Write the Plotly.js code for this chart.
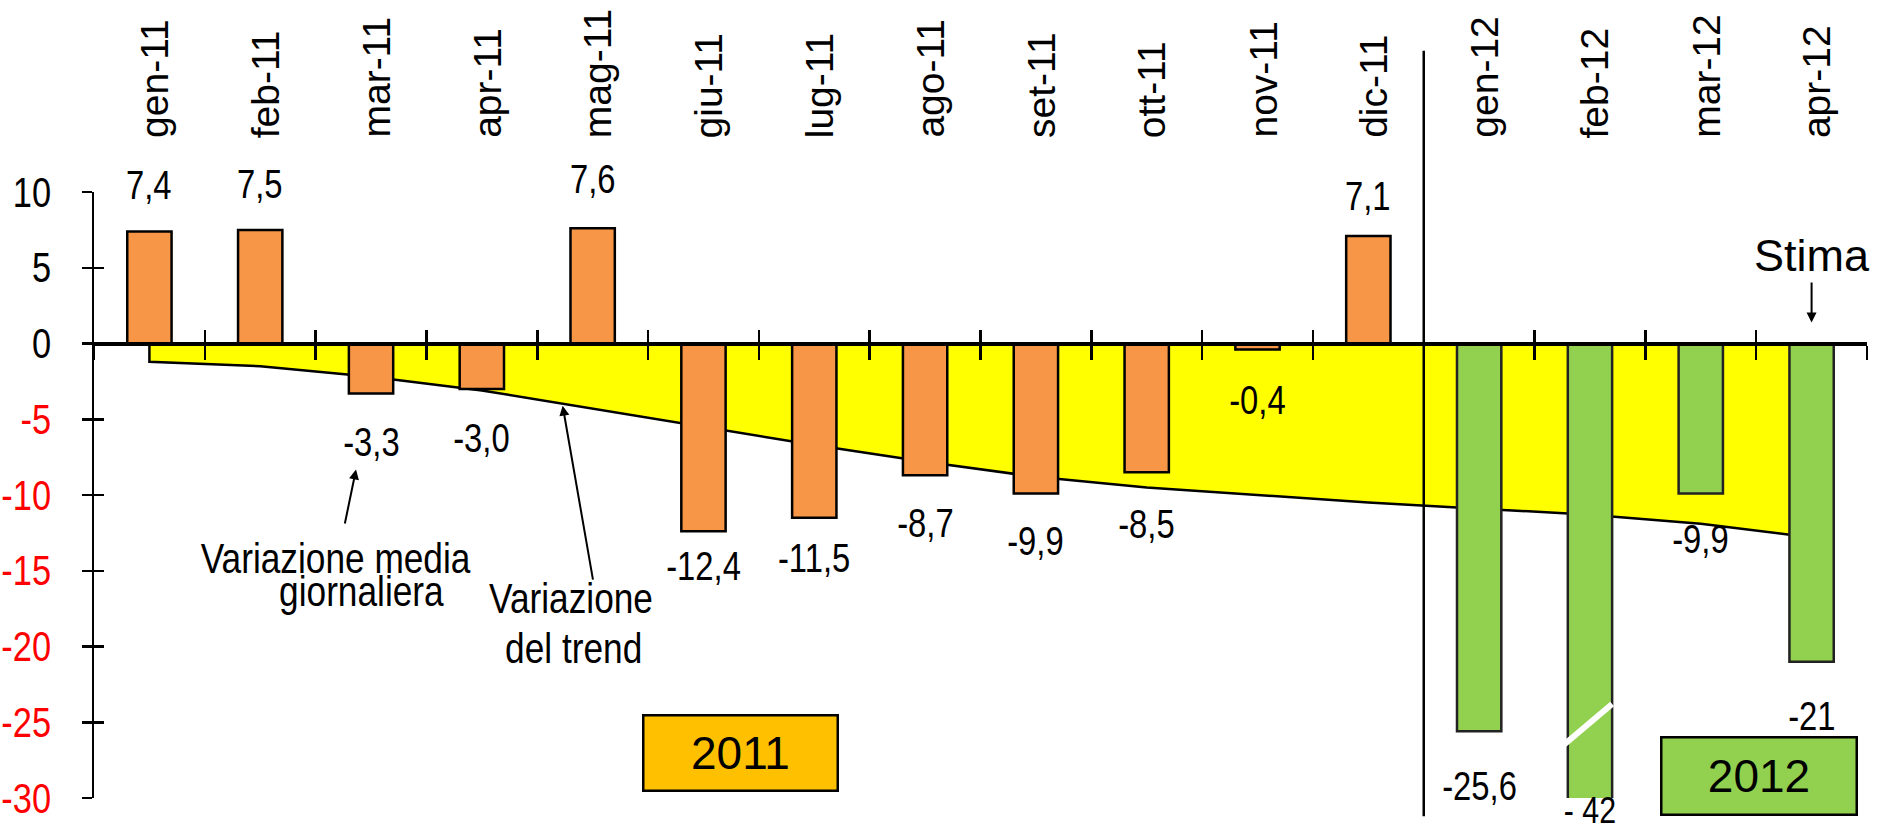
<!DOCTYPE html>
<html><head><meta charset="utf-8">
<script src="https://cdn.plot.ly/plotly-3.0.1.min.js"></script>
<style>html,body{margin:0;padding:0;background:#fff}</style>
</head><body><div id="chart" style="width:1882px;height:830px"></div>
<script>
const months = ['gen-11','feb-11','mar-11','apr-11','mag-11','giu-11','lug-11','ago-11','set-11','ott-11','nov-11','dic-11','gen-12','feb-12','mar-12','apr-12'];
const dailyChange = [7.4, 7.5, -3.3, -3.0, 7.6, -12.4, -11.5, -8.7, -9.9, -8.5, -0.4, 7.1, -25.6, -42, -9.9, -21];
const valueLabels = ['7,4','7,5','-3,3','-3,0','7,6','-12,4','-11,5','-8,7','-9,9','-8,5','-0,4','7,1','-25,6','- 42','-9,9','-21'];
const trend = [-1.2, -1.5, -2.2, -3.1, -4.3, -5.5, -6.7, -7.8, -8.8, -9.5, -10.0, -10.5, -10.9, -11.3, -11.9, -12.8];
const yTicks = [10, 5, 0, -5, -10, -15, -20, -25, -30];

// styling
const Y_MIN = -30, Y_MAX = 10;
const ORANGE = '#F79646', GREEN = '#92D050', YELLOW = '#FFFF00', RED = '#FF0000';
const FONT = '"Liberation Sans", Arial, sans-serif';
const NARROW_SCALE = 0.82;
const labelGap = [46,46,48,49,49,35,40,48,48,52,50,40,55,12,46,54];
const zeroPos = (0 - Y_MIN) / (Y_MAX - Y_MIN);

const areaTrace = {
  type:'scatter', x:[months[0]].concat(months), y:[0].concat(trend),
  mode:'lines', fill:'tozeroy', fillcolor:YELLOW,
  line:{color:'#000', width:2.5}, xaxis:'x', yaxis:'y', hoverinfo:'skip'
};
const barTrace = {
  type:'bar', x:months, y:dailyChange, width:0.4,
  marker:{color:months.map(m => m.endsWith('12') ? GREEN : ORANGE),
          line:{color:months.map(m => m.endsWith('12') ? '#222' : '#000'), width:2.5}},
  xaxis:'x2', yaxis:'y2', hoverinfo:'skip'
};
const tickTrace = {
  type:'scatter', x:months, y:months.map(() => null), mode:'markers',
  xaxis:'x3', yaxis:'y2', hoverinfo:'skip'
};

const catAxis = () => ({type:'category', categoryorder:'array', categoryarray:months,
  range:[-0.5, months.length - 0.5], fixedrange:true, showgrid:false, zeroline:false});

const annotations = [];
const condenseMeta = []; // per annotation: null or origin for horizontal condensing
function addAnn(a, origin) { annotations.push(a); condenseMeta.push(origin || null); }
const txt = (size) => ({family:FONT, size:size, color:'#000'});

months.forEach((m, i) => {
  addAnn({xref:'x2', yref:'paper', x:m, y:1.0858, yanchor:'bottom', xanchor:'center',
    textangle:-90, text:m, showarrow:false, xshift:5, font:txt(39)});
  const v = dailyChange[i];
  addAnn({xref:'x2', yref:'y2', x:m, y:Math.max(v, Y_MIN), text:valueLabels[i],
    showarrow:false, yanchor:'middle', yshift: v >= 0 ? labelGap[i] : -labelGap[i],
    font:txt(v < Y_MIN ? 37 : 40)}, 'middle');
});
// "Stima" (estimate) marker over the last bar
addAnn({xref:'x2', yref:'y2', x:months[15], y:0, text:'Stima', showarrow:true,
  arrowhead:2, arrowsize:1, arrowwidth:2, arrowcolor:'#000', ax:0, ay:-88, standoff:21,
  font:txt(45)});
// arrows
addAnn({xref:'x2', yref:'y2', x:months[2], y:dailyChange[2], xshift:-15, yshift:-76,
  text:' ', showarrow:true, arrowhead:2, arrowsize:1, arrowwidth:2, arrowcolor:'#000',
  ax:-12, ay:58, standoff:0, font:txt(4)});
addAnn({xref:'x2', yref:'y2', x:months[4], y:trend[4], xshift:-30, yshift:3,
  text:' ', showarrow:true, arrowhead:2, arrowsize:1, arrowwidth:2, arrowcolor:'#000',
  ax:31, ay:178, standoff:0, font:txt(4)});
// callout texts
addAnn({xref:'x2', yref:'y2', x:months[2], y:dailyChange[2], xshift:-36, yshift:-164,
  text:'Variazione media', showarrow:false, font:txt(43)}, 'middle');
addAnn({xref:'x2', yref:'y2', x:months[2], y:dailyChange[2], xshift:-10, yshift:-197,
  text:'giornaliera', showarrow:false, font:txt(43)}, 'middle');
addAnn({xref:'x2', yref:'y2', x:months[4], y:trend[4], xshift:-22, yshift:-189,
  text:'Variazione', showarrow:false, font:txt(43)}, 'middle');
addAnn({xref:'x2', yref:'y2', x:months[4], y:trend[4], xshift:-19, yshift:-239,
  text:'del trend', showarrow:false, font:txt(43)}, 'middle');
// year boxes
addAnn({xref:'paper', yref:'paper', x:0.3646, y:0.0743, xanchor:'center', yanchor:'middle',
  text:'2011', showarrow:false, bgcolor:'#FFC000', bordercolor:'#000', borderwidth:2.5,
  borderpad:0, width:192, height:73, font:txt(46)});
addAnn({xref:'paper', yref:'paper', x:0.9391, y:0.0363, xanchor:'center', yanchor:'middle',
  text:'2012', showarrow:false, bgcolor:GREEN, bordercolor:'#000', borderwidth:2.5,
  borderpad:0, width:193, height:75, font:txt(46)});

const layout = {
  width:1882, height:830, margin:{l:94, r:15, t:192, b:32},
  paper_bgcolor:'#fff', plot_bgcolor:'rgba(0,0,0,0)', showlegend:false, hovermode:false,
  xaxis: Object.assign(catAxis(), {visible:false}),
  xaxis2: Object.assign(catAxis(), {overlaying:'x', anchor:'free', position:zeroPos,
    showline:true, linecolor:'#000', linewidth:4, ticks:'outside', ticklen:14, tickwidth:2.5,
    tickcolor:'#000', tickson:'boundaries', showticklabels:false}),
  xaxis3: Object.assign(catAxis(), {overlaying:'x', anchor:'free', position:zeroPos,
    showline:false, ticks:'inside', ticklen:14, tickwidth:2.5, tickcolor:'#000',
    tickson:'boundaries', showticklabels:false}),
  yaxis: {range:[Y_MIN, Y_MAX], fixedrange:true, showline:true, linecolor:'#000', linewidth:2.5,
    ticks:'outside', ticklen:10, tickwidth:2.5, tickcolor:'#000', tickvals:yTicks,
    ticktext:yTicks.map(v => v < 0 ? '<span style="color:' + RED + '">' + v + '</span>' : String(v)),
    tickfont:txt(42), ticklabelstandoff:22, showgrid:false, zeroline:false},
  yaxis2: {range:[Y_MIN, Y_MAX], fixedrange:true, overlaying:'y', showline:false,
    ticks:'inside', ticklen:10, tickwidth:2.5, tickcolor:'#000', tickvals:yTicks,
    showticklabels:false, showgrid:false, zeroline:false},
  shapes: [
    {type:'line', xref:'x2', yref:'paper', x0:months[11], x1:months[11], x0shift:0.5, x1shift:0.5,
     y0:-0.03, y1:1.233, line:{color:'#000', width:2.5}},
    {type:'line', xref:'x2', yref:'y2', x0:months[13], x1:months[13], x0shift:-0.27, x1shift:0.2,
     y0:-26.7, y1:-23.8, line:{color:'#fff', width:6}}
  ],
  annotations: annotations
};

// horizontal condensing to mimic a narrow typeface (text remains real text)
function condense(el, s, origin) {
  const x = parseFloat(el.getAttribute('x')) || 0;
  const anchor = el.getAttribute('text-anchor') || 'start';
  const len = el.getComputedTextLength();
  const start = anchor === 'middle' ? x - len / 2 : (anchor === 'end' ? x - len : x);
  const ox = origin === 'start' ? start : (origin === 'end' ? start + len : start + len / 2);
  const prev = el.getAttribute('transform') || '';
  el.setAttribute('transform', (prev + ' matrix(' + s + ',0,0,1,' + ((1 - s) * ox) + ',0)').trim());
}

Plotly.newPlot('chart', [areaTrace, barTrace, tickTrace], layout, {staticPlot:true, displayModeBar:false})
.then(gd => {
  condenseMeta.forEach((origin, i) => {
    if (!origin) return;
    const el = gd.querySelector('g.annotation[data-index="' + i + '"] text.annotation-text');
    if (el) condense(el, NARROW_SCALE, origin);
  });
  gd.querySelectorAll('g.ytick text').forEach(el => condense(el, NARROW_SCALE, 'end'));
});
</script>
</body></html>
